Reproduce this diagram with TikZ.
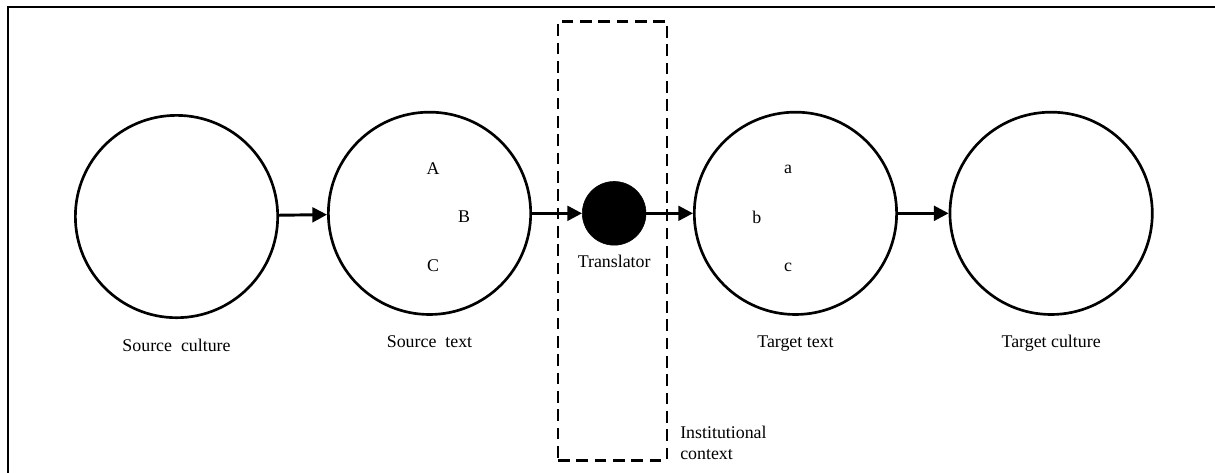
\documentclass[tikz,border=0pt]{standalone}
\usepackage{fontspec}
\setmainfont{Liberation Serif}
\usetikzlibrary{positioning}
\usetikzlibrary{arrows.meta}

\begin{document}
\begin{tikzpicture}[
every node/.style={font=\fontsize{13.4}{16.3}\selectfont},
bigcircle/.style={circle, draw=black, line width=2pt, minimum size=151.75pt, inner sep=0},
dot/.style={circle, draw=black, fill=black, minimum size=47.8pt, inner sep=0},
letter/.style={anchor=base, inner sep=0},
flow/.style={-{Triangle[length=11pt, width=11pt]}, line width=2.2pt}
]
\useasboundingbox (0,0) rectangle (911.25pt,-354.75pt);
\draw[line width=0.9pt] (6pt,-354.75pt) -- (6pt,-5.25pt) -- (911.25pt,-5.25pt);
\node[draw, dash pattern=on 8.75pt off 5pt, line width=2pt, minimum width=81.7pt, minimum height=329.3pt, inner sep=0] (ctx) at (459.4pt,-180.7pt) {};
\node[anchor=base west, align=left, inner sep=0] (ctxlabel) at (510pt,-345pt) {Institutional\\context};
\node[bigcircle, label={[anchor=base, label distance=24pt]below:Source~~culture}] (srccult) at (132.4pt,-162.4pt) {};
\node[bigcircle, right=36pt of srccult, yshift=2.4pt, label={[anchor=base, label distance=24pt]below:Source~~text}] (srctext) {};
\node[dot, right=37.5pt of srctext, label={[anchor=base, label distance=16.5pt]below:Translator}] (translator) {};
\node[bigcircle, right=35pt of translator, label={[anchor=base, label distance=24pt]below:Target text}] (tgttext) {};
\node[bigcircle, right=38pt of tgttext, label={[anchor=base, label distance=24pt]below:Target culture}] (tgtcult) {};
\node[letter] (A) at ([shift={(2.6pt,29.3pt)}]srctext.center) {A};
\node[letter] (B) at ([shift={(25.9pt,-7pt)}]srctext.center) {B};
\node[letter] (C) at ([shift={(2.6pt,-44pt)}]srctext.center) {C};
\node[letter] (a) at ([shift={(-5.6pt,29.8pt)}]tgttext.center) {a};
\node[letter] (b) at ([shift={(-29pt,-7.3pt)}]tgttext.center) {b};
\node[letter] (c) at ([shift={(-5.6pt,-43.3pt)}]tgttext.center) {c};
\draw[flow] (srccult) -- (srctext);
\draw[flow] (srctext) -- (translator);
\draw[flow] (translator) -- (tgttext);
\draw[flow] (tgttext) -- (tgtcult);
\end{tikzpicture}
\end{document}
